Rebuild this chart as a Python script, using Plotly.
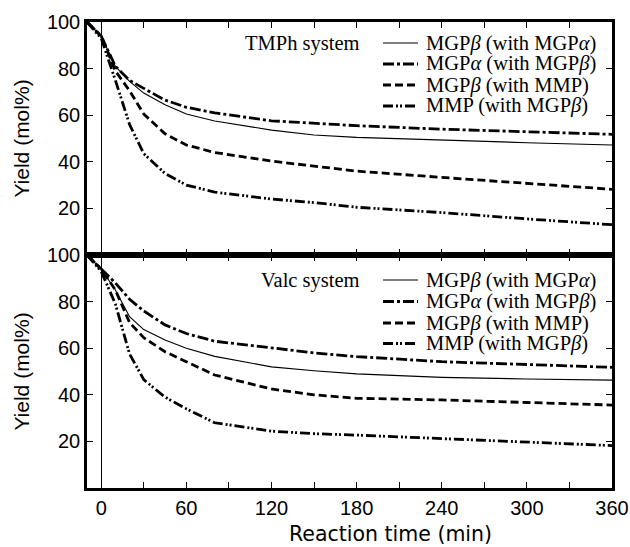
import plotly.graph_objects as go

# Sampling times (min); -10 marks the start of heating
times = [-10, 0, 10, 20, 30, 45, 60, 80, 120, 150, 180, 240, 300, 360]

series_names = [
    "MGP<i>β</i> (with MGP<i>α</i>)",
    "MGP<i>α</i> (with MGP<i>β</i>)",
    "MGP<i>β</i> (with MMP)",
    "MMP (with MGP<i>β</i>)",
]

# TMPh system yields (mol%)
tmph_mgpb_a = [100, 94, 81, 74.5, 69.5, 64.5, 60.5, 57.5, 53.6, 51.5, 50.5, 49.2, 48.2, 47.2]
tmph_mgpa_b = [100, 94, 81, 75, 71.5, 66.5, 63.4, 61, 57.6, 56.4, 55.5, 54, 52.8, 51.8]
tmph_mgpb_mmp = [100, 94, 79, 70.5, 60.5, 52, 47.2, 44, 40.3, 38, 36, 33.3, 30.8, 28.2]
tmph_mmp_b = [100, 93, 75, 56, 43.5, 35, 30, 27, 24, 22.5, 20.5, 18.2, 15.5, 13]

# Valc system yields (mol%)
valc_mgpb_a = [100, 94, 85, 73.5, 68, 63.5, 60, 56.5, 52, 50.3, 49, 47.5, 46.8, 46.3]
valc_mgpa_b = [100, 94, 88, 81, 76, 70, 66.3, 63, 60, 58, 56.4, 54.2, 53, 51.8]
valc_mgpb_mmp = [100, 94, 85, 71, 64.5, 58.5, 54.2, 48.5, 42.5, 40, 38.5, 37.8, 36.7, 35.6]
valc_mmp_b = [100, 93, 79, 57.5, 46.5, 39, 34, 28, 24.4, 23.3, 22.7, 21.3, 19.8, 18.2]

panels = [
    ("TMPh system", [tmph_mgpb_a, tmph_mgpa_b, tmph_mgpb_mmp, tmph_mmp_b]),
    ("Valc system", [valc_mgpb_a, valc_mgpa_b, valc_mgpb_mmp, valc_mmp_b]),
]

x_ticks = [0, 30, 60, 90, 120, 150, 180, 210, 240, 270, 300, 330, 360]
x_ticktext = ["0", "", "60", "", "120", "", "180", "", "240", "", "300", "", "360"]
y_ticks = [20, 40, 60, 80, 100]

styles = [
    dict(width=1.1, dash="solid"),
    dict(width=2.8, dash="11px,3px,3px,3px"),
    dict(width=2.8, dash="8px,4px"),
    dict(width=2.8, dash="10px,3px,2px,2px,2px,3px"),
]

serif = "Liberation Serif, Times New Roman, serif"
sans = "Liberation Sans, Arial, sans-serif"

fig = go.Figure()

axis_pairs = [("x", "y"), ("x2", "y2")]
for (title, data), (xa, ya) in zip(panels, axis_pairs):
    for name, vals, st in zip(series_names, data, styles):
        fig.add_trace(go.Scatter(
            x=times, y=vals, name=name, mode="lines",
            line=dict(color="black", width=st["width"], dash=st["dash"]),
            xaxis=xa, yaxis=ya, showlegend=False,
        ))

common_x = dict(
    range=[-10, 360], tickvals=x_ticks, ticktext=x_ticktext, automargin=False,
    ticks="inside", ticklen=6, tickwidth=1.2, tickcolor="black",
    showline=True, linewidth=2.5, linecolor="black", mirror="ticks",
    showgrid=False, zeroline=True, zerolinecolor="black", zerolinewidth=1,
    tickfont=dict(family=sans, size=20, color="black"),
)
common_y = dict(
    range=[0, 100], tickvals=y_ticks, automargin=False,
    ticks="inside", ticklen=6, tickwidth=1.2, tickcolor="black",
    showline=True, linewidth=2.5, linecolor="black", mirror="ticks",
    showgrid=False, zeroline=False,
    tickfont=dict(family=sans, size=20, color="black"),
    title=dict(text="Yield (mol%)", font=dict(family=sans, size=21, color="black"), standoff=12),
)

fig.update_layout(
    width=630, height=547,
    margin=dict(l=87, r=18, t=22, b=59),
    paper_bgcolor="white", plot_bgcolor="white",
    showlegend=False,
    xaxis=dict(common_x, domain=[0, 1], anchor="y", showticklabels=False, matches="x2"),
    yaxis=dict(common_y, domain=[0.5, 1], anchor="x"),
    xaxis2=dict(common_x, domain=[0, 1], anchor="y2"),
    yaxis2=dict(common_y, domain=[0, 0.5], anchor="x2"),
)

# In-panel legends: system label, line samples and series names
row_offsets_px = [[21, 42, 63, 84], [25, 46.5, 68, 88.5]]
panel_h = 233.0
plot_w = 525.0
for p, ((title, _), (xa, ya)) in enumerate(zip(panels, axis_pairs)):
    xref = f"{xa} domain"
    yref = f"{ya} domain"
    rows = [1 - off / panel_h for off in row_offsets_px[p]]
    fig.add_annotation(
        text=title, xref=xref, yref=yref, x=(362 - 87) / plot_w, y=rows[0],
        xanchor="right", yanchor="middle", showarrow=False,
        font=dict(family=serif, size=20.5, color="black"),
    )
    for name, st, yr in zip(series_names, styles, rows):
        fig.add_shape(
            type="line", xref=xref, yref=yref,
            x0=(383 - 87) / plot_w, x1=(418 - 87) / plot_w, y0=yr, y1=yr,
            line=dict(color="black", width=st["width"], dash=st["dash"]),
        )
        fig.add_annotation(
            text=name, xref=xref, yref=yref, x=(424 - 87) / plot_w, y=yr,
            xanchor="left", yanchor="middle", showarrow=False,
            font=dict(family=serif, size=20.5, color="black"),
        )

fig.add_annotation(
    text="Reaction time (min)", xref="paper", yref="paper",
    x=(390 - 87) / plot_w, y=0, yshift=-32, xanchor="center", yanchor="top", showarrow=False,
    font=dict(family="DejaVu Sans, sans-serif", size=20.5, color="black"),
)

fig.write_html("out.html")
